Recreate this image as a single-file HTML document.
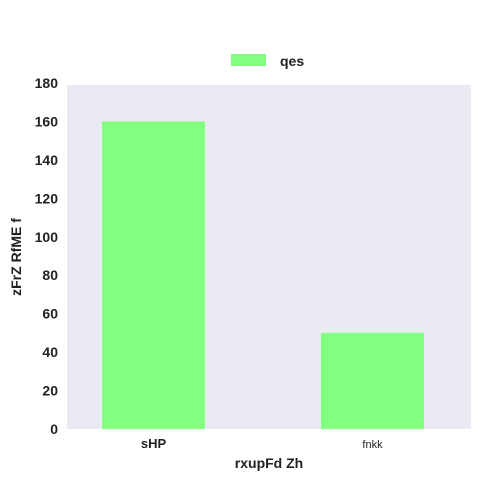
<!DOCTYPE html>
<html><head><meta charset="utf-8"><style>
html,body{margin:0;padding:0;background:#fff;width:483px;height:483px;overflow:hidden}
text{font-family:"Liberation Sans",Arial,sans-serif}
</style></head><body>
<svg id="chart" width="483" height="483" xmlns="http://www.w3.org/2000/svg">
<rect x="67" y="85" width="404" height="344" fill="#eaeaf2"/>
<g id="bars"></g>
<g id="yticks"></g>
<g id="xticks"></g>
<text x="269" y="468" text-anchor="middle" font-size="14" font-weight="bold" fill="#222">rxupFd Zh</text>
<text transform="translate(21,257) rotate(-90)" text-anchor="middle" font-size="14" font-weight="bold" fill="#222">zFrZ RfME f</text>
<g>
<rect x="231" y="54" width="35" height="12" fill="#80ff80"/>
<text x="280" y="66" font-size="14" font-weight="bold" fill="#222">qes</text>
</g>
</svg>
<script>
const categories = ["sHP", "fnkk"];
const values = [160, 50];
const yTicks = [0, 20, 40, 60, 80, 100, 120, 140, 160, 180];
const catBold = [true, false];

const ns = "http://www.w3.org/2000/svg";
const plotTop = 83, plotBottom = 429, yMax = 180;
function yScale(v){ return plotBottom - (plotBottom - plotTop) * v / yMax; }
const x0 = 153.5, xStep = 219, barW = 103;
function xScale(i){ return x0 + i * xStep; }

const barsG = document.getElementById("bars");
values.forEach((v, i) => {
  const r = document.createElementNS(ns, "rect");
  r.setAttribute("x", xScale(i) - barW / 2);
  r.setAttribute("y", yScale(v));
  r.setAttribute("width", barW);
  r.setAttribute("height", plotBottom - yScale(v));
  r.setAttribute("fill", "#80ff80");
  
  
  barsG.appendChild(r);
});

const yG = document.getElementById("yticks");
yTicks.forEach(t => {
  const tx = document.createElementNS(ns, "text");
  tx.setAttribute("x", 58);
  tx.setAttribute("y", yScale(t) + 5);
  tx.setAttribute("text-anchor", "end");
  tx.setAttribute("font-size", "14");
  tx.setAttribute("font-weight", "bold");
  tx.setAttribute("fill", "#222");
  tx.textContent = t;
  
  
  yG.appendChild(tx);
});

const xG = document.getElementById("xticks");
categories.forEach((c, i) => {
  const tx = document.createElementNS(ns, "text");
  tx.setAttribute("x", xScale(i));
  tx.setAttribute("y", 448);
  tx.setAttribute("text-anchor", "middle");
  tx.setAttribute("font-size", catBold[i] ? "13" : "11");
  if (catBold[i]) tx.setAttribute("font-weight", "bold");
  tx.setAttribute("fill", "#222");
  tx.textContent = c;
  
  
  xG.appendChild(tx);
});
</script>
</body></html>
